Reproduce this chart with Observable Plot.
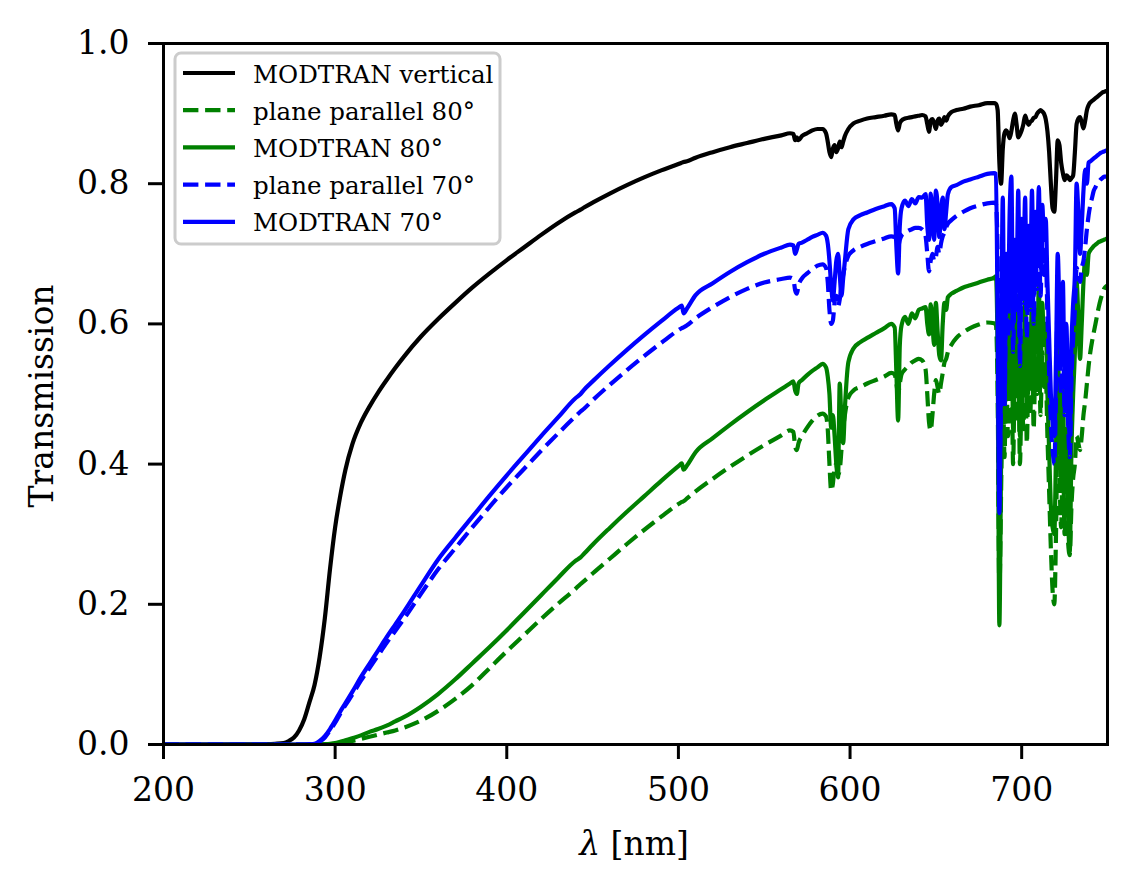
<!DOCTYPE html>
<html>
<head>
<meta charset="utf-8">
<script src="https://cdn.jsdelivr.net/npm/d3@7"></script>
<script src="https://cdn.jsdelivr.net/npm/@observablehq/plot@0.6"></script>
<style>
  html, body { margin: 0; padding: 0; background: #fff; }
  #chart { width: 1136px; height: 890px; }
</style>
</head>
<body>
<div id="chart"></div>
<script>
// ---------------- data (wavelength grid in nm, three parts) ----------------
const gridA = [200,230,250,260,265,270,273,276,279,282,
               285,288,291,294,297,300,303,306,310,315,
               320,325,330,335,340,350,360,370,380,390,
               400,410,420,430,440,443,445,450,460,470,
               480,490,500,502,503,505,510,520,530,540,
               550,560,565];
const gridB = [567,568,569,570,572,575,578,581,584,586,
               587,588,589,590,591,592,593,594,595,596,
               597,599,602,606,610,615,620,624,626,627,
               628,629,630,632,634,636,638,640,642,644,
               645,646,647,648,649,650,651,652,653,654,
               655,656,657,659,662,666,670,675,680,684,
               685];
const gridC = [686,687,688,689,690,691,692,693,694,695,
               696,697,698,699,700,701,702,703,704,705,
               706,707,708,709,710,711,712,713,714,715,
               716,717,718,719,720,721,722,723,724,725,
               726,727,728,729,730,731,732,733,734,735,
               736,737,738,739,740,741,742,743,744,745,
               746,747,748,749,750];

// MODTRAN vertical
const modtranVertical = [
  0,0,0.0002,0.0005,0.001,0.002,0.005,0.01,0.02,0.036,
  0.06,0.085,0.125,0.18,0.25,0.31,0.355,0.392,0.428,0.459,
  0.482,0.502,0.52,0.537,0.553,0.582,0.607,0.63,0.652,0.672,
  0.691,0.709,0.727,0.744,0.759,0.763,0.766,0.773,0.786,0.798,
  0.809,0.819,0.828,0.830,0.831,0.832,0.837,0.845,0.852,0.858,
  0.864,0.869,0.872,
  0.871,0.862,0.866,0.862,0.868,0.872,0.876,0.878,0.878,0.872,
  0.86,0.845,0.838,0.85,0.855,0.845,0.85,0.86,0.852,0.86,
  0.868,0.878,0.886,0.89,0.893,0.895,0.897,0.899,0.898,0.885,
  0.876,0.886,0.89,0.893,0.894,0.895,0.896,0.897,0.898,0.896,
  0.885,0.874,0.89,0.892,0.886,0.878,0.89,0.893,0.884,0.888,
  0.895,0.89,0.896,0.902,0.905,0.907,0.91,0.912,0.915,0.915,
  0.914,
  0.905,0.83,0.80,0.85,0.872,0.876,0.872,0.865,0.875,0.89,
  0.90,0.885,0.866,0.87,0.876,0.885,0.897,0.89,0.884,0.888,
  0.89,0.894,0.895,0.9,0.903,0.905,0.903,0.9,0.892,0.875,
  0.845,0.80,0.765,0.76,0.805,0.862,0.855,0.83,0.815,0.805,
  0.812,0.81,0.805,0.808,0.812,0.845,0.885,0.893,0.895,0.887,
  0.879,0.89,0.905,0.912,0.916,0.918,0.92,0.922,0.924,0.926,
  0.928,0.93,0.931,0.932,0.933
];

// plane parallel 80°
const planeParallel80 = [
  0,0,0,0,0,0,0,0,0,0,
  0,0,0,0,0.0003,0.001,0.002,0.003,0.005,0.008,
  0.011,0.014,0.017,0.02,0.024,0.034,0.048,0.065,0.085,0.109,
  0.133,0.156,0.179,0.201,0.222,0.229,0.233,0.244,0.265,0.286,
  0.306,0.325,0.343,0.346,0.347,0.351,0.361,0.379,0.396,0.412,
  0.427,0.441,0.448,
  0.446,0.425,0.42,0.43,0.44,0.452,0.462,0.469,0.472,0.468,
  0.45,0.40,0.362,0.372,0.395,0.40,0.385,0.392,0.42,0.45,
  0.47,0.495,0.505,0.51,0.515,0.52,0.525,0.53,0.528,0.515,
  0.50,0.515,0.528,0.535,0.54,0.545,0.548,0.55,0.548,0.535,
  0.50,0.46,0.448,0.47,0.50,0.52,0.51,0.50,0.515,0.53,
  0.545,0.55,0.56,0.57,0.58,0.588,0.594,0.599,0.602,0.601,
  0.598,
  0.50,0.22,0.36,0.52,0.41,0.55,0.44,0.50,0.58,0.40,
  0.53,0.46,0.56,0.40,0.51,0.45,0.57,0.43,0.53,0.47,
  0.57,0.45,0.55,0.50,0.58,0.47,0.56,0.51,0.53,0.44,
  0.36,0.28,0.22,0.20,0.30,0.46,0.38,0.31,0.43,0.30,
  0.37,0.29,0.27,0.34,0.38,0.40,0.44,0.43,0.42,0.44,
  0.47,0.49,0.515,0.54,0.56,0.575,0.588,0.60,0.613,0.625,
  0.635,0.643,0.65,0.653,0.655
];

// MODTRAN 80°
const modtran80 = [
  0,0,0,0,0,0,0,0,0,0,
  0,0,0.0002,0.0005,0.001,0.002,0.004,0.006,0.009,0.013,
  0.018,0.022,0.027,0.033,0.039,0.054,0.072,0.093,0.116,0.139,
  0.163,0.188,0.213,0.238,0.262,0.267,0.272,0.285,0.309,0.332,
  0.354,0.376,0.397,0.401,0.392,0.398,0.417,0.437,0.456,0.474,
  0.491,0.507,0.515,
  0.518,0.505,0.50,0.515,0.52,0.527,0.533,0.538,0.543,0.538,
  0.525,0.50,0.452,0.47,0.44,0.40,0.381,0.515,0.46,0.43,
  0.48,0.545,0.565,0.574,0.58,0.587,0.594,0.60,0.595,0.53,
  0.462,0.57,0.598,0.61,0.60,0.615,0.608,0.62,0.622,0.624,
  0.60,0.585,0.628,0.60,0.57,0.63,0.59,0.555,0.548,0.60,
  0.63,0.62,0.638,0.643,0.647,0.652,0.655,0.659,0.663,0.666,
  0.668,
  0.55,0.17,0.40,0.58,0.46,0.62,0.50,0.56,0.66,0.45,
  0.60,0.52,0.64,0.44,0.58,0.50,0.65,0.48,0.60,0.53,
  0.645,0.50,0.62,0.56,0.655,0.52,0.63,0.57,0.60,0.50,
  0.42,0.34,0.31,0.30,0.42,0.57,0.46,0.38,0.52,0.36,
  0.45,0.33,0.275,0.42,0.50,0.56,0.66,0.61,0.55,0.60,
  0.66,0.69,0.67,0.70,0.705,0.708,0.711,0.713,0.715,0.717,
  0.718,0.719,0.72,0.721,0.722
];

// plane parallel 70°
const planeParallel70 = [
  0,0,0,0,0,0,0,0,0,0,
  0.0002,0.001,0.004,0.01,0.02,0.031,0.044,0.056,0.071,0.091,
  0.109,0.127,0.145,0.162,0.179,0.215,0.25,0.28,0.31,0.339,
  0.367,0.393,0.419,0.444,0.468,0.475,0.479,0.491,0.513,0.534,
  0.554,0.573,0.591,0.594,0.595,0.598,0.608,0.624,0.638,0.65,
  0.659,0.664,0.666,
  0.664,0.648,0.643,0.655,0.665,0.672,0.678,0.683,0.685,0.68,
  0.66,0.62,0.60,0.605,0.63,0.64,0.625,0.635,0.655,0.67,
  0.682,0.697,0.705,0.71,0.714,0.718,0.722,0.725,0.724,0.718,
  0.71,0.72,0.726,0.73,0.733,0.735,0.737,0.737,0.735,0.725,
  0.70,0.675,0.69,0.70,0.69,0.695,0.71,0.70,0.715,0.725,
  0.73,0.738,0.743,0.748,0.754,0.76,0.765,0.769,0.772,0.773,
  0.771,
  0.70,0.40,0.50,0.70,0.48,0.64,0.58,0.70,0.74,0.56,
  0.66,0.62,0.72,0.54,0.69,0.63,0.72,0.58,0.68,0.62,
  0.73,0.60,0.71,0.65,0.74,0.64,0.72,0.67,0.70,0.61,
  0.53,0.46,0.42,0.40,0.50,0.64,0.57,0.50,0.60,0.47,
  0.55,0.46,0.41,0.52,0.58,0.62,0.68,0.67,0.66,0.68,
  0.69,0.71,0.735,0.755,0.77,0.78,0.79,0.795,0.80,0.803,
  0.806,0.808,0.81,0.81,0.81
];

// MODTRAN 70°
const modtran70 = [
  0,0,0,0,0,0,0,0,0,0,
  0.0003,0.001,0.005,0.012,0.022,0.034,0.047,0.059,0.075,0.096,
  0.115,0.134,0.153,0.171,0.189,0.227,0.264,0.295,0.325,0.355,
  0.384,0.412,0.44,0.467,0.494,0.500,0.506,0.518,0.541,0.563,
  0.584,0.604,0.623,0.626,0.615,0.622,0.641,0.658,0.674,0.688,
  0.70,0.709,0.713,
  0.712,0.700,0.706,0.714,0.716,0.72,0.724,0.727,0.730,0.726,
  0.715,0.69,0.655,0.633,0.66,0.69,0.70,0.67,0.64,0.665,
  0.69,0.735,0.749,0.755,0.759,0.764,0.768,0.771,0.765,0.71,
  0.672,0.74,0.765,0.776,0.768,0.778,0.772,0.781,0.78,0.785,
  0.74,0.72,0.786,0.75,0.72,0.79,0.77,0.724,0.76,0.78,
  0.735,0.76,0.785,0.795,0.798,0.803,0.806,0.81,0.814,0.815,
  0.814,
  0.60,0.33,0.55,0.78,0.50,0.70,0.62,0.76,0.81,0.60,
  0.72,0.66,0.79,0.58,0.75,0.68,0.78,0.62,0.74,0.66,
  0.79,0.64,0.76,0.70,0.795,0.68,0.77,0.72,0.75,0.66,
  0.58,0.50,0.46,0.44,0.55,0.70,0.62,0.55,0.66,0.52,
  0.60,0.50,0.44,0.57,0.63,0.67,0.80,0.76,0.70,0.74,
  0.79,0.82,0.80,0.83,0.832,0.834,0.836,0.838,0.84,0.842,
  0.844,0.845,0.846,0.847,0.848
];

const xTicks = [200, 300, 400, 500, 600, 700];
const yTicks = [0, 0.2, 0.4, 0.6, 0.8, 1.0];

const seriesNames = ["MODTRAN vertical", "plane parallel 80°", "MODTRAN 80°", "plane parallel 70°", "MODTRAN 70°"];
const seriesValues = [modtranVertical, planeParallel80, modtran80, planeParallel70, modtran70];
const seriesColors = ["black", "green", "green", "blue", "blue"];
const seriesDashed = [false, true, false, true, false];

// ---------------- build ----------------
const grid = [...gridA, ...gridB, ...gridC];
const problems = [];
seriesValues.forEach((v, i) => { if (v.length !== grid.length) problems.push(seriesNames[i] + ": " + v.length + " vs " + grid.length); });

const LW = 4.2;
const DASH = "15.4,6.7";

const lineMarks = seriesValues.map((vals, i) => {
  const rows = grid.map((nm, j) => ({nm, T: vals[j]})).filter(d => d.T !== undefined);
  return Plot.line(rows, {
    x: "nm", y: "T",
    stroke: seriesColors[i],
    strokeWidth: LW,
    strokeDasharray: seriesDashed[i] ? DASH : null,
    strokeLinecap: "butt",
    strokeLinejoin: "round",
    curve: "monotone-x",
    clip: true
  });
});

const FONT = "DejaVu Serif";

const svg = Plot.plot({
  width: 1136,
  height: 890,
  marginLeft: 163,
  marginRight: 29,
  marginTop: 43,
  marginBottom: 146,
  style: {fontFamily: FONT, fontSize: "33px", background: "white", color: "black", overflow: "visible"},
  x: {domain: [200, 750]},
  y: {domain: [0, 1]},
  marks: [
    ...lineMarks,
    Plot.frame({stroke: "black", strokeWidth: 3}),
    Plot.axisX({ticks: xTicks, tickSize: 15, tickPadding: 18, tickFormat: d => String(d),
                fontSize: 33, fontFamily: FONT, strokeWidth: 3, label: null}),
    Plot.axisY({ticks: yTicks, tickSize: 15, tickPadding: 19, tickFormat: d3.format(".1f"),
                fontSize: 33, fontFamily: FONT, strokeWidth: 3, label: null})
  ]
});

document.getElementById("chart").appendChild(svg);

// ---------------- axis labels and legend (text + samples) ----------------
const s = d3.select(svg);

const xl = s.append("text")
  .attr("x", 634).attr("y", 855)
  .attr("text-anchor", "middle")
  .attr("font-family", FONT).attr("font-size", 33).attr("fill", "black");
xl.append("tspan").attr("font-style", "italic").text("λ");
xl.append("tspan").text(" [nm]");

s.append("text")
  .attr("transform", "translate(53,396) rotate(-90)")
  .attr("text-anchor", "middle")
  .attr("font-family", FONT).attr("font-size", 33).attr("fill", "black")
  .text("Transmission");

const lg = s.append("g");
lg.append("rect")
  .attr("x", 175).attr("y", 53).attr("width", 325).attr("height", 191)
  .attr("rx", 6).attr("ry", 6)
  .attr("fill", "white").attr("fill-opacity", 0.8)
  .attr("stroke", "#cccccc").attr("stroke-width", 3);

seriesNames.forEach((name, i) => {
  const cy = 73 + i * 37.2;
  lg.append("line")
    .attr("x1", 183).attr("x2", 235).attr("y1", cy).attr("y2", cy)
    .attr("stroke", seriesColors[i]).attr("stroke-width", LW)
    .attr("stroke-dasharray", seriesDashed[i] ? DASH : null);
  lg.append("text")
    .attr("x", 253).attr("y", cy + 9.5)
    .attr("text-anchor", "start")
    .attr("font-family", FONT).attr("font-size", 24.5).attr("fill", "black")
    .text(name);
});

if (problems.length) {
  s.append("text").attr("x", 600).attr("y", 400).attr("fill", "red").attr("font-size", 20).text(problems.join(" | "));
}
</script>
</body>
</html>
